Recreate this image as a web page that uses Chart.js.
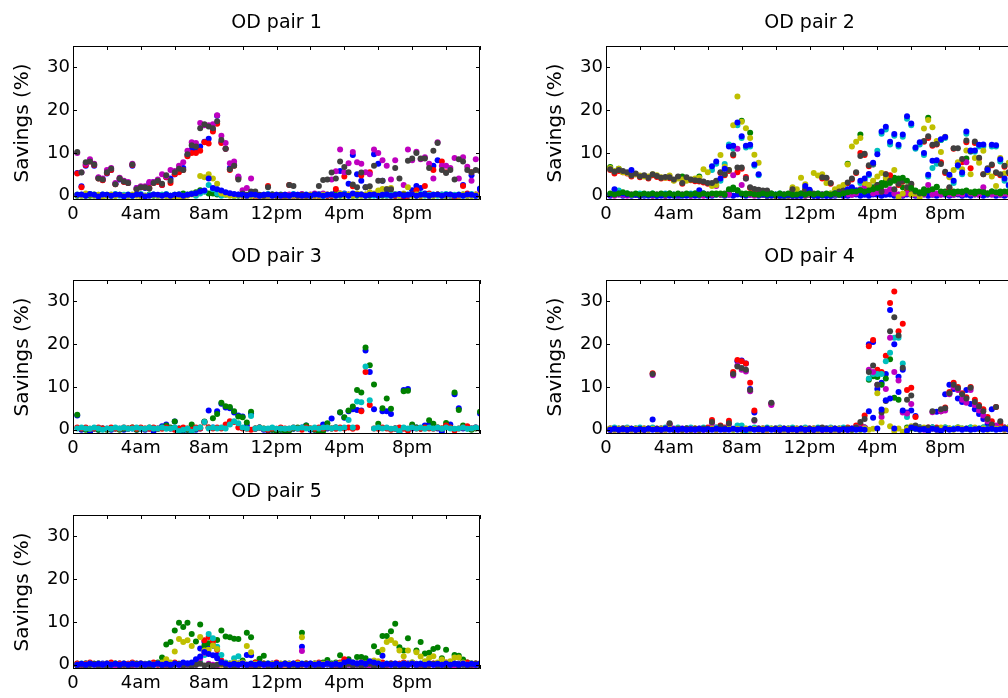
<!DOCTYPE html>
<html>
<head>
<meta charset="utf-8">
<script src="https://cdn.jsdelivr.net/npm/chart.js@4.4.1/dist/chart.umd.min.js"></script>
<style>
  html, body { margin: 0; padding: 0; background: #fff; }
  #page { position: relative; width: 1008px; height: 698px; overflow: hidden; }
  .panel { position: absolute; width: 490px; height: 228px; }
</style>
</head>
<body>
<div id="page">
  <div class="panel" style="left:0;top:0"><canvas id="od1" width="490" height="228"></canvas></div>
  <div class="panel" style="left:533px;top:0"><canvas id="od2" width="490" height="228"></canvas></div>
  <div class="panel" style="left:0;top:234px"><canvas id="od3" width="490" height="228"></canvas></div>
  <div class="panel" style="left:533px;top:234px"><canvas id="od4" width="490" height="228"></canvas></div>
  <div class="panel" style="left:0;top:469px"><canvas id="od5" width="490" height="228"></canvas></div>
</div>
<script>
// time of day (hours) for each 15-minute slot
const hours = [
  0.25, 0.5, 0.75, 1, 1.25, 1.5, 1.75, 2, 2.25, 2.5, 2.75, 3,
  3.25, 3.5, 3.75, 4, 4.25, 4.5, 4.75, 5, 5.25, 5.5, 5.75, 6,
  6.25, 6.5, 6.75, 7, 7.25, 7.5, 7.75, 8, 8.25, 8.5, 8.75, 9,
  9.25, 9.5, 9.75, 10, 10.25, 10.5, 10.75, 11, 11.25, 11.5, 11.75, 12,
  12.25, 12.5, 12.75, 13, 13.25, 13.5, 13.75, 14, 14.25, 14.5, 14.75, 15,
  15.25, 15.5, 15.75, 16, 16.25, 16.5, 16.75, 17, 17.25, 17.5, 17.75, 18,
  18.25, 18.5, 18.75, 19, 19.25, 19.5, 19.75, 20, 20.25, 20.5, 20.75, 21,
  21.25, 21.5, 21.75, 22, 22.25, 22.5, 22.75, 23, 23.25, 23.5, 23.75, 24
];
const xTicks = [0, 2, 4, 6, 8, 10, 12, 14, 16, 18, 20, 22, 24];
const xTickLabels = ['0', '', '4am', '', '8am', '', '12pm', '', '4pm', '', '8pm', '', ''];
const yTicks = [0, 10, 20, 30];

// ---- OD pair 1 ----
const od1Blue = [
  5.3, 2.2, 7, 8.2, 7, 4.2, 3.7, 5.2, 6, 2.8, 3.8, 3.3,
  3, 7, 1.8, 2, 1.8, 3, 3.2, 3.3, 2.5, 4.3, 4, 5,
  6, 6.5, 9.5, 10.8, 11, 11.5, 12.6, 13.3, 15.5, 18.7, 12.5, 11,
  6.5, 7.2, 4.3, 0, 0, 0.2, 0, 0, 0, 0, 0.2, 0,
  0, 0, 0, 0, 0.2, 0, 0, 0, 0, 0, 0.2, 0,
  0, 1, 5.8, 0.5, 2.8, 9.5, 5, 3.5, 2, 0.5, 9.7, 7.5,
  3.5, 1.2, 0.3, 0, 0, 0, 0, 1.3, 2.3, 1.8, 0.5, 0,
  7, 8.3, 0.3, 0, 0, 0, 0, 2.5, 0, 4.8, 0, 1.7
];
const od1Green = [
  0, 0.2, 0, 0, 0.3, 0, 0, 0.2, 0, 0, 0.2, 0,
  0, 0, 0.2, 0, 0, 0.3, 0, 0, 0.2, 0, 0, 0.2,
  0.3, 0.5, 0.3, 0.5, 0.8, 1.3, 1, 0.5, 0.5, 0.3, 0.5, 0.3,
  0.2, 0, 0, 0.3, 0, 0, 0.2, 0, 0, 0, 0.3, 0,
  0, 0.2, 0, 0, 0, 0.3, 0, 0, 0.2, 0, 0, 0,
  0, 0.3, 0, 0, 0.2, 0, 0, 0.3, 0, 0, 0.2, 0,
  0, 0.3, 0, 0, 0.2, 0, 0, 0.3, 0, 0, 0.2, 0,
  0, 0.3, 0, 0, 0.2, 0, 0, 0.3, 0, 0, 0.2, 0
];
const od1Red = [
  5.2, 2, 7.2, 8, 7.2, 4, 3.6, 5.3, 6, 2.7, 4, 3.2,
  3, 7.2, 1.5, 2, 2, 1.8, 3, 3.2, 2.5, 4.3, 3, 5,
  5.5, 6, 9.2, 10, 10, 10.5, 12.5, 12.2, 15, 16.8, 12.3, 11,
  6, 7, 4, 0, 0, 0.3, -0.2, 0, 0, 2.3, 0, 0,
  0, -0.3, 2.5, 0, 0, 0, 0, 0, 0, 0, 0.2, 0,
  0, 1.6, 0.5, 4.5, 0.3, 2.2, 0.4, 4.7, 0.2, 5.5, 0.3, 0.2,
  0.3, 0, 0.5, 0, 0, -0.5, 0, 0.3, 1.3, 0, 2.3, 0.5,
  6, 0.3, 8, 5.5, 0, -0.7, 0, 2.3, 0.5, 5.5, 0.3, 0.2
];
const od1Cyan = [
  0.3, 0, 0.2, 0.4, 0, 0.2, 0.3, 0, 0.2, 0.4, 0, 0.2,
  0.3, 0, 0.2, 0.4, 0, 0.2, 0.3, 0, 0.2, 0.4, 0, 0.2,
  0.3, 0, 0.2, 0.4, 0, 0.5, 1, 2.5, 1.5, 0.5, 0, 0.2,
  0.3, 0, 0.2, 0.4, 0, 0.2, 0.3, 0, 0.2, 0.4, 0, 0.2,
  0.3, 0, 0.2, 0.4, 0, 0.2, 0.3, 0, 0.2, 0.4, 0, 0.2,
  0.3, 0, 0.2, 0.4, 0, 0.2, 0.3, 0, 0.2, 0.4, 0, 0.2,
  0.3, 0, 0.2, 0.4, 0, 0.2, 0.3, 0, 0.2, 0.4, 0, 0.2,
  0.3, 0, 0.2, 0.4, 0, 0.2, 0.3, 0, 0.2, 0.4, 0, 0.2
];
const od1Magenta = [
  10, 5.5, 7.5, 8.5, 7.5, 4.3, 4, 6, 6.5, 3, 4.2, 3.5,
  3.2, 7.5, 1.8, 2.2, 2.2, 3.2, 3.2, 3.8, 5, 4.5, 6, 5.8,
  7, 7.8, 10.5, 12.5, 12.3, 17, 16.5, 16.5, 16.7, 18.8, 14, 12.3,
  7.6, 8, 4.5, 1.3, 1.8, 4, 0, 0, 0.2, 0, 0, 0.2,
  0, 0.2, 0.3, 0, 0, 0.4, 0, 0.3, 0.5, 0.3, 0.5, 0.3,
  3.8, 5.7, 10.8, 5.5, 7.6, 10.2, 7.8, 7.5, 5.5, 5, 10.8, 10,
  8.3, 7, 3.8, 8.3, 0.2, 2.5, 10.8, 8.3, 10.3, 8.5, 9, 7.5,
  4, 12.5, 7, 7, 6.5, 8.8, 4, 9, 6.8, 3.5, 8.5, 0.5
];
const od1Olive = [
  0.2, 0, 0.5, 0.3, 0, 0.2, -0.2, 0, 0.3, 0, 0.2, 0,
  0, 0.3, 0, -0.2, 0, 0, 0.2, 0, 0, 0, -0.3, -0.5,
  -0.6, -0.5, 0, 0.3, 0.5, 4.6, 4.3, 5, 4, 2.8, 0.5, 0.3,
  0, 0, 0.2, 0, 0, 0, 0, 0, 0, 0, 0, 0,
  0, 0, 0, 0, 0, 0, 0, 0.2, 0, 0, 0.2, 0.3,
  0.3, 0, 0.5, 0, 0.2, 0, 0.5, 0, 0.3, 0.8, 0.5, 1.2,
  1.6, 1.6, 1.8, 0.3, 0, 0.5, 2, 0, 0.3, 0, 0.2, 0,
  0, 0.3, 0, 0, 0.2, 0, 0, 0.3, 0, 0, 0.2, 0
];
const od1Gray = [
  10.2, 5.4, 7.8, 8, 7.3, 4, 3.8, 5.5, 6.3, 2.7, 4, 3.3,
  3, 7.3, 1.5, 2, 2, 1.7, 3, 3.5, 2.8, 4.8, 3.5, 5.5,
  6.3, 6, 9.7, 11.8, 11.5, 15.8, 16.7, 16.2, 15.8, 17.4, 13, 11,
  6.2, 7, 3.8, 0.5, 0.2, 1, 1, 0.2, 0, 2, 0.3, 0,
  0.2, 0, 2.5, 2.3, 0, 0.2, 0, 0, 0.3, 2.3, 3.7, 3.8,
  5.4, 4, 8, 6.7, 5.5, 2.6, 2, 5.4, 2, 2.2, 7, 3.5,
  3.5, 1.5, 1.5, 6.5, 4, 0.3, 8.2, 8.7, 10, 8.7, 8.7, 6.5,
  10.5, 12.3, 6, 5.3, 6, 3.8, 8.5, 8, 6, 5.5, 6, 5.8
];
const od1Blue2 = [
  0.2, 0.3, 0, 0.4, 0.2, -0.2, 0.3, 0.2, 0, 0.3, 0.2, -0.2,
  0.2, 0, 0.3, 0.2, -0.2, 0, 0.3, 0.2, 0, 0.3, 0, 0.2,
  0.3, 0, 0.2, 0.4, 0.6, 1, 1.2, 4, 1.8, 1.5, 1.2, 0.8,
  0.6, 0.4, 0.3, 0.2, 0, 0.3, 0.2, 0, 0.2, 0.3, 0, 0.2,
  0, 0.2, 0, 0.3, 0.2, 0, 0.2, 0, 0.3, 0.2, 0, 0.2,
  0.3, 0, 0.2, 0.3, 0, 0.5, 0.2, 0.3, 0, 0.2, 0.3, 0,
  0.2, 0.3, 0, 0.2, 0.4, 0, 0.2, 0.3, 0, 0.2, 0.3, 0,
  0.2, 0.3, 0, 0.2, 0.3, 0, 0.2, 0, 0.3, 0.2, 0, 1.5
];

// ---- OD pair 2 ----
const od2Blue = [
  0, 0.2, 0.3, 0, 0.2, 0, 0.3, 0.2, 0, 0.2, 0.3, 0,
  0.2, 0, 0.3, 0.2, 0, 0.2, 0.3, 0, 0.2, 0, 0.3, 0.2,
  0, 0.2, 0.3, 0, 0.2, 0, 0.3, 0.2, 0, 0.2, 0.3, 0,
  0.2, 0, 0.3, 0.2, 0, 0.2, 0.3, 0, 0.2, 0, 0.3, 0.2,
  0, 0.2, 0.3, 0, 0.2, 0, 0.3, 0.2, 0, 0.2, 0.3, 0,
  0.2, 0, 0.3, 0.2, 0, 0.2, 0.3, 0, 0.2, 0, 0.3, 0.2,
  0, 0.2, 0.3, 0, 0.2, 0, 0.3, 0.2, 0, 0.2, 0.3, 0,
  0.2, 0, 0.3, 0.2, 0, 0.2, 0.3, 0, 0.2, 0, 0.3, 0.2
];
const od2Green = [
  6.7, 0.5, 6.3, 0.3, 0.5, 0.2, 0.3, 0, 0.2, 0.3, 0, 0.2,
  0.3, 0, 0.5, 0.2, 0, 4.5, 0.3, 0.2, 0.5, 4.5, 0.3, 0.2,
  0.3, 0.5, 0.2, 0.5, 1, 1.5, 1.2, 17.5, 0.5, 14.7, 0.3, 0.5,
  0.2, 0, 0.3, 0.2, 0, 0.3, 0.2, 0, 0.3, 0.2, 0, 0.3,
  0.2, 0, 0.3, 0.2, 0, 0.3, 0.2, 0.5, 7.5, 0.5, 1, 14.3,
  1, 1.5, 2, 2.5, 3, 3.5, 4, 4.2, 3.8, 2, 1, 0.5,
  1, 0.5, 1.5, 18.2, 1, 2.1, 13, 1, 0.5, 1, 0.5, 1,
  8.7, 0.5, 1, 0.5, 1, 0.5, 1, 0.5, 1, 0.5, 1, 0.5
];
const od2Red = [
  6, 5.2, 5.8, 5.5, 5.2, 4.5, 5, 4.3, 4.6, 4, 4.8, 4.4,
  4, 4.2, 4.1, 3.6, 4.3, 2.8, 4.1, 3.6, 3.4, 3.3, 3.1, 2.8,
  2.8, 3.3, 5.3, 4.8, 5.8, 9.4, 5.5, 6.3, 4.4, 1.8, 1.4, 1.2,
  1, 1, 0.3, 0, 0, 0, 0, 1.3, 0, 0.3, 1.3, 1.1,
  0.3, 0, 4, 4, 2.8, 0.3, 0.8, 1, 2.9, 3.8, 5.3, 10,
  9.5, 6.9, 7.3, 2.3, 1, 5, 4.8, 1.3, 2.5, 3.3, 1.8, 2.6,
  0.8, 0.3, 12.6, 13.5, 11.7, 12, 7.8, 5.3, 1.8, 11, 7.6, 7.8,
  12.5, 6.4, 12.3, 8.7, 5, 6.2, 7.1, 5.3, 4.8, 6.8, 5.2, 4.8
];
const od2Cyan = [
  0.3, 0.5, 1.2, 0.3, 0.5, 0.2, 0.3, 0.5, 0.2, 0.3, 0.5, 0.2,
  0.3, 0.5, 0.2, 0.3, -0.3, 0.2, 0.3, 0.5, 0.2, 0.3, 0.5, 0.2,
  6, 7.5, 3.5, 7.4, 12, 11, 16.5, 13.5, 11.3, 11.5, 7, 4.8,
  0.3, 0.5, 0.2, 0.3, 0.5, -0.3, 0.3, 0.5, 0.2, 0.3, 2, 1.2,
  0.3, 0.5, 0.2, 0.3, 0.5, 0.2, 0.3, 0.5, 1.2, 1.8, 1, 3,
  3.5, 4.8, 7.3, 10.5, 14.5, 15.5, 12, 14, 11.5, 13.8, 18, 16.5,
  11, 12, 9.5, 4.5, 6.5, 7.5, 13, 13.5, 4.5, 3, 6.8, 5,
  14.5, 10.3, 10.3, 11.5, 11.5, 5.8, 11.5, 11.5, 8, 3.5, 2.3, 0.8
];
const od2Magenta = [
  0.2, 0, 0.3, 0.2, 0, 0.3, 0.2, 0, 0.3, 0.2, 0, 0.3,
  0.2, 0, 0.3, 0.2, 0, 0.3, 0.2, 0, 0.3, 0.2, 0, 0.3,
  0.2, 2.3, 0.3, 0.2, 0.3, 4.8, 11, 2.5, 4, 0.2, 0, 0.3,
  0.2, 0, 0.3, 0.2, 0, 0.3, 0.2, 0, 0.3, 0.2, 0, 0.3,
  0.2, 0, 0.3, 0.2, 0, 0.3, 0.2, 0, 0.3, 0.2, 0.5, 1.5,
  2.1, 2.5, 0.5, 0.8, 1.2, 1, 1.5, 0.5, 0.3, 0.2, 0.5, 0.3,
  0.2, 0.5, 0.3, 2.5, 0.3, 0.5, 0.2, 0.5, 0.3, 0.2, 0.5, 0.3,
  7.8, 0.5, 0.3, 0.2, 2, 0.5, 0.3, 0.5, 0.2, 0.5, 0.3, 0.2
];
const od2Olive = [
  6.5, 5.8, 6.3, 5.5, 5.3, 4.8, 5, 4.7, 4.5, 4.5, 5, 4.8,
  4.3, 4.2, 4.7, 3.5, 4, 3.8, 3.5, 3.8, 4, 4.2, 6.2, 5.5,
  2.3, 2.5, 9.5, 6.8, 6, 16.5, 23.2, 17.3, 15.8, 13.5, 9.6, 7.7,
  0.5, 0, 0, 0, 0, 0, 0, 2, 1.5, 4.2, 2.7, 0.5,
  5.3, 4.7, 5, 3, 0.5, 1.5, 2, 2.5, 7.3, 11.5, 12.6, 13.5,
  3, 2.5, 3.5, 4.5, 5.3, 4.2, 3.5, 6, -0.3, 0.5, 2, 0.3,
  0.5, -0.3, 15.7, 17.7, 16, 12.8, 10.2, 13.8, 4.3, 6, 7.8, 6.2,
  10.6, 5, 8.8, 7.7, 10.5, 5.5, 4.5, 2.3, 8.8, 5.2, 7.7, 8.5
];
const od2Gray = [
  6.2, 5.6, 6, 5.8, 5.5, 4.7, 5.2, 4.5, 4.8, 4.2, 5, 4.6,
  4.2, 4.4, 4.3, 3.8, 4.5, 3, 4.3, 3.8, 3.6, 3.5, 3.3, 3,
  3, 3.5, 5.5, 5, 6, 9.7, 6.6, 6.6, 4, 2, 1.6, 1.4,
  1.2, 1.2, 0.5, 0, 0, 0, 0, 1.5, 0, 0.5, 1.5, 1.3,
  0.5, 0, 4.3, 4.2, 3, 0.5, 1, 1.2, 3.1, 4, 5.5, 9.3,
  9.8, 7.1, 7.5, 2.5, 1, 5, 3.5, 1.5, 2.8, 3.5, 2, 2.8,
  1, 0.5, 12.8, 13.9, 11.9, 12.1, 7.4, 5.6, 2, 11.1, 11.1, 8.6,
  12.9, 10.4, 12.7, 8.9, 5, 6.4, 7.3, 5.5, 5, 7, 5.5, 5
];
const od2Blue2 = [
  0.3, 1.5, 0.5, 0.5, 0.3, 6, 0.2, 0, 0.3, 0, 0.2, 0,
  0, 0.3, 0, 0, 0.2, 0, 0, 0.3, 0, 1.3, 0.5, 0,
  6.9, 8, 4, 6.3, 11.5, 11.7, 17.1, 13.9, 11.7, 11.9, 7.3, 5,
  0.3, 0, 0, 0.2, 0, 0, 0.2, 0, 0, 0, 2.3, 1.4,
  0, 0, 0, 0, 0, 0.5, 0.3, 0, 1.5, 2, 1.3, 3.5,
  4, 5.1, 7.7, 9.7, 15, 16.1, 12.6, 14.4, 11.9, 14.3, 18.6, 16.9,
  11.3, 12.5, 10, 4.9, 8.2, 8.3, 13.2, 13.7, 4.9, 3.5, 7.1, 5.4,
  15, 10.6, 10.6, 11.9, 12, 6, 11.9, 11.8, 8.5, 4, 2.5, 1
];
const od2Green2 = [
  0.5, 0.3, 0.5, 0.8, 0.5, 0.3, 0.5, 0.2, 0.5, 0.3, 0.5, 0.3,
  0.5, 0.3, 0.5, 0.2, 0.5, 0.3, 0.5, 0.3, 0.5, 0.2, 0.5, 0.3,
  0.5, 0.3, 0.5, 0.2, 1.5, 1.9, 1.3, 0.5, 0.3, 0.5, 0.3, 0.2,
  0.5, 0.3, 0.5, 0.2, 0.5, 0.3, 0.5, 0.2, 0.3, 0.5, 0.2, 0.5,
  0.3, 0.5, 0.2, 0.5, 0.3, 0.5, 0.2, 0.5, 0.8, 1, 1, 1.3,
  1, 1.2, 1.5, 1.8, 2.2, 2.5, 3, 3.5, 4, 4.2, 3.5, 1.8,
  1.2, 0.8, 0.5, 1.2, 1.5, 2, 1, 0.5, 0.8, 0.5, 1, 0.8,
  1.2, 0.8, 0.5, 1, 0.8, 0.5, 1, 0.8, 0.5, 1, 0.8, 0.5
];

// ---- OD pair 3 ----
const od3Blue = [
  3.3, 0, 0.3, -0.6, 0.2, 0, 0.3, 0.2, 0, 0.3, 0.2, 0,
  0.2, 0.3, 0, 0.2, 0, 0.3, -0.3, 0.2, 0.8, 1.2, 0.3, 1.9,
  0.3, -0.2, 0, 0.5, 0, 0.3, 1.8, 4.5, 0.5, 4.3, 6.1, 5.2,
  5, 4, 3.3, 3.1, 1, 3.8, 0.2, 0.5, 0, -0.2, 0, 0,
  0, -0.2, 0, 0.2, 0.3, 0.5, 1, 0, 0, -0.3, 1.2, 0.3,
  2.6, 0.5, 4, 2.8, 4.3, 4.8, 4.6, 4.5, 18.5, 13.5, 4.8, 0.5,
  4.3, 4.3, 3.7, 0.3, -0.5, 9.3, 9.5, 0.3, 0.5, 0.3, 1, 1.2,
  0.5, 0.3, -0.5, 0.8, 1.2, 8.3, 5, 0.3, 0.5, 0.3, 0.5, 3.8
];
const od3Green = [
  3.5, 0.3, 0, 0.2, 0.3, 0, 0.3, 0, 0.2, 0.3, 0, 0.2,
  0.3, 0.5, 0, 0.3, 0.2, 0.5, 0.3, 0.2, 0.5, 1, 0.5, 1.9,
  0.3, 0, 0, 1.2, 0.2, 0.5, 1.9, 0.5, 2.7, 3.7, 6.3, 5.5,
  5.3, 4.3, 3.1, 2.9, 1.7, 4.2, 0.3, 0.5, 0.3, 0, 0, -0.3,
  0, -0.3, -0.2, 0.3, 0.5, 0.3, 1, 0.3, 0, -0.5, -0.3, 1.5,
  0.3, 0.5, 4.1, 2.9, 4.5, 5.4, 9.3, 8.7, 19.2, 15.1, 10.6, 1.4,
  5, 7.3, 4.9, 0.3, 0, 9, 9.1, 1.2, 0.5, 0.3, 0.5, 2.2,
  1.4, 0.5, 0.3, 1.6, 0.5, 8.7, 4.6, 1, 0.3, 0, 0.3, 4.2
];
const od3Red = [
  0.5, 0.3, 0.5, 0.2, 0.3, 0.5, 0.3, 0.2, 0.5, 0.3, 0.2, 0.5,
  0.3, 0.5, 0.2, 0.5, 0.3, 0.2, 0.5, 0.3, 0.2, 0.5, 0.3, 0,
  0.2, 0.5, 0.3, 0, 0.5, 0.3, 1.7, 0.5, 0.3, 0.5, 0.3, 1.2,
  2, 1.8, 0.5, 0.3, 0.2, 0, 0.3, 0.5, 0.2, 0, 0.3, 0.2,
  0.5, 0.3, 0.2, 0.5, 0.3, 0, 0.5, 0.3, 0.2, 0.5, 0.3, 0.5,
  0.3, 0.2, 0.5, 0.3, 0.5, 0.2, 0.5, 4.3, 13.5, 5.8, 0.3, 0.2,
  0.5, 0.3, 0, 0.3, 0.5, 0.2, -0.2, 0.5, 0.3, 0.2, 0.5, 0.3,
  0.2, 0.5, 0.3, 1, 0.5, -0.2, 0.3, 0.5, 0.8, 0.3, 0.5, 0.3
];
const od3Cyan = [
  0.3, 0.5, 0.3, 0.2, 0.5, 0.3, 0, 0.3, 0.2, 0.5, 0.3, 0.5,
  0.2, 0.3, 0.5, 0.3, 0.2, 0.5, 0.3, 0.3, 0.5, 0.2, 0.3, 0.5,
  -0.3, 0, 0.3, -0.5, 0.3, 0.5, 1.8, 0.3, 0.5, 0.3, 0.5, 0.3,
  1.2, 2, 1.5, 0.5, 0.3, 3.2, 0.3, 0.5, 0.2, 0.3, 0.5, 0.2,
  0.3, 0.2, 0.3, 0.5, 0.3, 0.5, 0.3, 0.2, 0.5, 0.3, 0.5, 0.5,
  0.3, 0.5, 0.3, 0.5, 2.3, 0.5, 6.6, 6.4, 14.8, 6.9, 0.3, 0.5,
  0.3, 0.5, 0.2, 0.3, -0.3, 0.5, 0.3, 0.5, 0.3, 0.5, 0.2, 0.5,
  0.3, 0.5, 0.2, 0.5, 0.3, 0.2, 0.3, 0.5, 0.2, 0.3, 0.5, 0.3
];

// ---- OD pair 4 ----
const od4Blue = [
  0, 0.2, 0, 0.3, 0, 0.2, 0, 0.3, 0, 0.2, 2.4, 0,
  0.2, 0, 0.3, 0, 0.2, 0, 0.3, 0, 0.2, 0, 0.3, 0,
  0.3, 0, 0.2, 0, 0.3, 13, 16, 16.2, 15.5, 9.5, 4, 0.3,
  0, 0.2, 6.2, 0.3, 0, 0.2, 0, 0.3, 0, 0.2, 0, 0.3,
  0, 0.2, 0, 0.3, 0, 0.2, 0, 0.3, 0, 0.2, 0.3, 1.2,
  0.5, 20, 20.5, 9.5, 11, 13, 28, 20, 12.4, 14, 4, 4.5,
  3.2, 0.5, 0.3, 0.2, 0.5, 4.2, 4.3, 8.3, 10.5, 9.5, 7.3, 6.5,
  9.3, 6, 4.8, 3.7, 2.5, 1.2, 4.8, 0.5, 0.3, 0.5, 0.2, 0.3
];
const od4Green = [
  0.2, 0, 0.3, 0, 0.2, 0, 0.3, 0, 0.2, 0, 0.3, 0,
  0.2, 0, 0.3, 0, 0.2, 0, 0.3, 0, 0.2, 0, 0.3, 0,
  0.2, 0, 0.3, 0, 0.2, 0, 0.3, 0, 0.2, 0, 0.3, 0,
  0.2, 0, 0.3, 0, 0.2, 0, 0.3, 0, 0.2, 0, 0.3, 0,
  0.2, 0, 0.3, 0, 0.2, 0, 0.3, 0, 0.2, 0, 0.3, 0,
  0.5, 11.7, 12.5, 12.3, 10.5, 12, 16.5, 7.5, 7, 4.2, 0.5, 0.3,
  0.2, 0.5, 0.3, 0.2, 0.5, 0.3, 0.2, 0.5, 0.3, 0.2, 0.5, 0.3,
  0.2, 0.5, 0.3, 0.2, 0.5, 0.3, 0.2, 0.5, 0.3, 0.2, 0.5, 0.3
];
const od4Red = [
  0, 0.2, 0, 0.3, 0, 0.2, 0, 0.3, 0, 0.2, 13.2, 0.3,
  0, 0.2, 1.2, 0, 0.3, 0, 0.2, 0, 0.3, 0, 0.2, 0.5,
  2.3, 0.5, 1, 0.5, 2.1, 13.5, 16.3, 16, 15.5, 11, 4.5, 0.3,
  0.2, 0, 6, 0.3, 0, 0.2, 0, 0.3, 0, 0.2, 0, 0.3,
  0, 0.2, 0, 0.3, 0, 0.2, 0, 0.3, 0.5, 0.2, 1, 1.2,
  3.3, 19.5, 21, 14, 13.5, 17.3, 29.6, 32.3, 23, 24.8, 9.3, 9.8,
  3, 0.5, 0.3, 0.5, 0.3, 0.5, 4.3, 5.2, 8.8, 11, 10, 8.5,
  7.6, 10, 7, 5.8, 4.8, 3, 2, 5.3, 1.5, 0.5, 0.3, 0.5
];
const od4Cyan = [
  0.3, 0.5, 0.2, 0.3, 0.5, 0.2, 0.3, 0.5, 0.2, 0.3, 0.5, 0.2,
  0.3, 0.5, 0.2, 0.3, 0.5, 0.2, 0.3, 0.5, 0.2, 0.3, 0.5, 0.2,
  0.3, 0.5, 0.2, 0.3, 0.5, 0.2, 1, 1, -0.7, 0.3, 0.5, 0.2,
  0.3, 0.5, 0.2, 0.3, 0.5, 0.2, 0.3, 0.5, 0.2, 0.3, 0.5, 0.2,
  0.3, 0.5, 0.2, 0.3, 0.5, 0.2, 0.3, 0.5, 0.2, 0.3, 0.5, 0.2,
  0.3, 12, 13, 13, 13, 16, 18, 21.5, 21.5, 15.5, 3, 0.5,
  0.3, 0.5, 0.2, 0.3, 0.5, 0.2, 0.3, 0.5, 0.2, 0.3, 0.5, 0.2,
  0.3, 0.5, 0.2, 0.3, 0.5, 0.2, 0.3, 0.5, 0.2, 0.3, 0.5, 0.2
];
const od4Magenta = [
  0.3, 0, 0.2, 0, 0.3, 0, 0.2, 0, 0.3, 0, 12.8, 0,
  0.3, 0, 1.3, 0.2, 0, 0.3, 0, 0.2, 0, 0.3, 0, 0,
  1.5, 0, 0.5, 0, 1.3, 12.7, 15, 14, 13.6, 9, 2.1, 0,
  0.3, 0, 5.8, 0, 0.3, 0, 0.2, 0, 0.3, 0, 0.2, 0,
  0.3, 0, 0.2, 0, 0.3, 0, 0.2, 0, 0, 0.3, 0.5, 0.3,
  0.5, 14, 13.5, 10.5, 3, 9.5, 21.5, 13.5, 11.5, 4, 3.8, 6,
  0.5, 0.3, 0, 0.2, 4.1, 0, 4.3, 4.5, 8.3, 10, 9.3, 7,
  6.3, 9.3, 5.8, 4.5, 3.3, 2, 0.8, 1, 0.3, 0, 0.2, 0
];
const od4Olive = [
  0.3, 0, 0.2, 0, 0.3, 0, 0.2, 0, 0.3, 0, 0.2, 0,
  0.3, 0, 0.2, 0, 0.3, 0, 0.2, 0, 0.3, 0, 0.2, 0,
  0.3, 0, 0.2, 0, 0.3, 0, 0.2, 0, 0.3, 0, 0.2, 0,
  0.3, 0, 0.2, 0, 0.3, 0, 0.2, 0, 0.3, 0, 0.2, 0,
  0.3, 0, 0.2, 0, 0.3, 0, 0.2, 0, 0.3, 0, 0.2, 0,
  0.3, 0, 0.2, 8.5, 1.7, 4.5, 0.8, -0.3, 0.3, -0.5, 0.3, 0.8,
  0.3, 0, 0.5, 0.2, 0.3, 0, 0.5, 0.2, 0.3, 0, 0.5, 0.2,
  0.3, 0, 0.5, 0.2, 0.3, 0, 0.5, 0.2, 0.3, 0, 0.5, 0.2
];
const od4Gray = [
  0, 0.2, 0, 0.3, 0, 0.2, 0, 0.2, 0, 0.3, 13, 0.2,
  0, 0.3, 1.5, 0, 0.2, 0, 0.3, 0, 0.2, 0, 0.3, 0.2,
  1.8, 0.2, 0.8, 0.3, 1.5, 13, 14.8, 14.4, 14, 9.3, 2.3, 0.2,
  0, 0.3, 6.3, 0.2, 0, 0.3, 0, 0.2, 0, 0.3, 0, 0.2,
  0, 0.3, 0.5, 0.2, 0, 0.3, 0, 0.2, 0.3, 0, 0.5, 1.8,
  2.5, 13.5, 15, 10.5, 4, 6.7, 23, 26.3, 22, 14.5, 7, 8,
  1, 0.3, 0.2, 0.5, 4.3, 0.3, 4.8, 5, 8.5, 10.5, 9.7, 8.3,
  7.3, 9.8, 6.5, 5.5, 4.3, 2.5, 1.2, 5.3, 2, 0.3, 0.2, 0.3
];
const od4Blue2 = [
  0, 0.2, 0, 0.1, 0, 0.2, 0, 0.1, 0, 0.2, 0, 0.1,
  0, 0.2, 0, 0.1, 0, 0.2, 0, 0.1, 0, 0.2, 0, 0.1,
  0, 0.2, 0, 0.1, 0, 0.2, 0, 0.1, 0, 0.2, 0, 0.1,
  0, 0.2, 0, 0.1, 0, 0.2, 0, 0.1, 0, 0.2, 0, 0.1,
  0, 0.2, 0, 0.1, 0, 0.2, 0, 0.1, 0, 0.2, 0, 0.1,
  0, 4.3, 2.8, 0.3, 4.7, 6.9, 7.3, 0.3, 8.8, 4.5, -0.3, 0.5,
  0.2, 0, 0.1, -0.3, 0.2, 0, -0.3, 0.2, 0, 0.1, 0.2, 0,
  0.2, 0, 0.1, 0.2, 0, 0.1, 0.2, 0, 0.1, 0.2, 0, 0.1
];

// ---- OD pair 5 ----
const od5Blue = [
  0.2, 0, 0.3, 0, 0.2, 0, 0.3, 0, 0.2, 0, 0.3, 0,
  0.2, 0, 0.3, 0, 0.2, 0, 0.3, 0, 0.2, 0, 0.3, 0,
  0.2, 0, 0.3, 0, 0.2, 3.8, 5.3, 4.7, 4.5, 2.3, 0.3, 0,
  0.2, 0, 0.3, 0, 2.3, 2.2, 0.3, 0, 0.2, 0, 0.3, 0,
  0.2, 0, 0.3, 0, 0.2, 4.2, 0.3, 0, 0.2, 0, 0.3, 0,
  0.2, 0, 0.3, 0, 0.2, 0, 0.3, 0, 0.2, 0, 0.3, 0,
  2.1, 0, 0.3, 0, 0.2, 0, 0.3, 0, 0.2, 0, 0.3, 0,
  0.2, 0, 0.3, 0, 0.2, 0, 0.3, 0, 0.2, 0, 0.3, 0
];
const od5Green = [
  0.2, 0, 0.3, 0, 0.2, 0.3, 0, 0.2, 0, 0.3, 0, 0.2,
  0, 0.3, 0, 0.2, 0, 0.3, 0, 0.5, 1.7, 4.7, 5.3, 8,
  9.8, 8.8, 9.8, 7.2, 5.4, 9.4, 4.5, 5, 4.5, 5.8, 8, 6.6,
  6.4, 6.1, 6, 1, 7.5, 6.4, 0.5, 1.4, 2.1, 0.3, 0, 0.2,
  0, 0.3, 0, 0.2, 0.3, 7.5, 0, 0.2, 0.3, 0, 0.5, 1.1,
  0.3, 0.5, 2.2, 1, 1.3, 0.5, 1.8, 1.8, 1.5, 0.5, 4.3, 3,
  6.7, 6.7, 7.8, 9.6, 4.1, 3.3, 6.2, 0.5, 3.3, 5.3, 2.6, 2.8,
  3.7, 4, 1.5, 3.5, 0.5, 2.3, 2.1, 1.2, 0.5, 0.3, 0, 0.2
];
const od5Red = [
  0.3, 0, 0.2, 0.5, 0, 0.3, 0, 0.2, 0.5, 0, 0.3, 0,
  0.2, 0.5, 0, 0.3, 0, 0.2, 0.5, 0, 0.3, 0, 0.2, 0.5,
  0, 0.3, 0, 0.2, 0.5, 0.5, 5.7, 6.5, 5.5, 3.5, 1, 0.3,
  0.2, 0.5, 0, 0.3, 0, 0.2, 0.5, 0, 0.3, 0, 0.2, 0.5,
  0, 0.3, 0, 0.2, 0.5, 0, 0.3, 0, 0.2, 0.5, 0, 0.3,
  0, 0.2, 0.5, 1.3, 0.3, 0, 0.2, 0.5, 0, 0.3, 0, 0.2,
  0.5, 0, 0.3, 0, 0.2, 0.5, 0, 0.3, 0, 0.2, 0.5, 0,
  0.3, 0, 0.2, 0.5, 0, 0.3, 0, 0.2, 0.5, 0, 0.3, 0
];
const od5Cyan = [
  0, 0.3, 0, 0.2, 0, 0.3, 0, 0.2, 0, 0.3, 0, 0.2,
  0, 0.3, 0, 0.2, 0, 0.3, 0, 0.2, 0, 0.3, 0, 0.2,
  0, 0.3, 0, 0.2, 0, 0.5, 2.3, 7.2, 6.2, 4.2, 2.3, 0.5,
  0.3, 1.5, 2, 0.2, 0, 0.3, 0, 0.2, 0, 0.3, 0, 0.2,
  0, 0.3, 0, 0.2, 0, 0.3, 0, 0.2, 0, 0.3, 0, 0.2,
  0, 0.3, 0, 0.2, 0, 0.3, 0, 0.2, 0, 0.3, 0, 0.2,
  0, 0.3, 0, 0.2, 0, 0.3, 0, 0.2, 0, 0.3, 0, 0.2,
  0, 0.3, 0, 0.2, 0, 0.3, 0, 0.2, 0, 0.3, 0, 0.2
];
const od5Magenta = [
  0, -0.3, 0, 0.2, 0, -0.3, 0, 0.2, 0, -0.3, 0, 0.2,
  0, -0.3, 0, 0.2, 0, -0.3, 0, 0.2, 0, -0.3, 0, 0.2,
  0, -0.3, 0, 0.2, 0, 1.5, 2.8, 0.2, 0, -0.3, 0, 0.2,
  0, -0.3, 0, 0.2, 0, -0.3, 0, 0.2, 0, -0.3, 0, 0.2,
  0, -0.3, 0, 0.2, 0, 3.2, 0, 0.2, 0, -0.3, 0, 0.2,
  0, -0.3, 0, 0.2, 0, -0.3, 0, 0.2, 0, -0.3, 0, 0.2,
  0, -0.3, 0, 0.2, 0, -0.3, 0, 0.2, 0, -0.3, 0, 0.2,
  0, -0.3, 0, 0.2, 0, -0.3, 0, 0.2, 0, -0.3, 0, 0.2
];
const od5Olive = [
  0, 0.2, 0, 0.3, 0, 0.2, 0, 0.3, 0, 0.2, 0, 0.3,
  0, 0.2, 0, 0.3, 0, 0.2, 0, 0.3, 0.5, 1.3, 0.5, 3.1,
  6, 5.3, 5.7, 4.4, 0.5, 6.5, 3.3, 3.5, 4.5, 3.7, 0, 0.3,
  0.2, 0.5, 0.3, 0.5, 4.4, 2.9, 0.2, 0, 0.3, 0, 0.2, 0,
  0.3, 0, 0.2, 0, 0.3, 6.4, 0.2, 0, 0.3, 0, 0.2, 0.3,
  0, 0.2, 0.3, 0, 0.5, 0.3, 0.2, 0.5, 0.3, 0.5, 1, 0.8,
  3.5, 5.3, 5.8, 5, 3.3, 2, 3.3, 0.5, 2.9, 1.9, 0.8, 1.6,
  2, 0.5, 1.2, 0.5, 0.8, 1.7, 1.7, 0.5, -0.3, 0.3, 0.2, 0.3
];
const od5Gray = [
  -0.2, 0, -0.3, 0, 0.2, -0.2, 0, -0.3, 0, 0.2, -0.2, 0,
  -0.3, 0, 0.2, -0.2, 0, -0.3, 0, 0.2, -0.2, 0, -0.3, 0,
  0.2, -0.2, 0, -0.3, 0, 0.2, -0.2, 0, -0.3, 0, 0.2, -0.2,
  0, -0.3, 0, 0.2, -0.2, 0, -0.3, 0, 0.2, -0.2, 0, -0.3,
  0, 0.2, -0.2, 0, -0.3, 0, 0.2, -0.2, 0, -0.3, 0, 0.2,
  -0.2, 0, -0.3, -0.5, 0.2, -0.2, 0, -0.3, 0, 0.2, -0.5, 0,
  -0.3, 0, 0.2, -0.2, 0, -0.3, 0, 0.2, -0.2, 0, -0.3, 0,
  0.2, -0.2, 0, -0.3, 0, 0.2, -0.2, 0, -0.3, 0, 0.2, -0.2
];
const od5Blue2 = [
  0, 0.2, 0, 0.3, 0, 0.2, 0, 0.3, 0, 0.2, 0, 0.3,
  0, 0.2, 0, 0.3, 0, 0.2, 0, 0.3, 0, 0.2, 0, 0.3,
  0, 0.5, 0.3, 0.5, 1.3, 1.9, 3, 2.5, 2.2, 1.5, 0.6, 0.3,
  0, 0.2, 0, 0.3, 0, 0.2, 0, 0.3, 0, 0.2, 0, 0.3,
  0, 0.2, 0, 0.3, 0, 0.2, 0, 0.3, 0, 0.2, 0, 0.3,
  0, 0.2, 0, 0.5, 0.8, 0.5, 0.3, 0.5, 0.2, 0.8, 0.5, 0.3,
  0, 0.2, 0, 0.3, 0, 0.2, 0, 0.3, 0, 0.2, 0, 0.3,
  0, 0.2, 0, 0.3, 0, 0.2, 0, 0.3, 0, 0.2, 0, 0.3
];

const COLORS = {
  blue: '#0000ff', green: '#008000', red: '#ff0000', cyan: '#00bfbf',
  magenta: '#bf00bf', olive: '#bfbf00', gray: '#404040'
};
const FONT = '"DejaVu Sans", "Liberation Sans", Arial, sans-serif';

const panels = [
  { id: 'od1', title: 'OD pair 1', series: [
    [od1Blue, 'blue'], [od1Green, 'green'], [od1Red, 'red'], [od1Cyan, 'cyan'],
    [od1Magenta, 'magenta'], [od1Olive, 'olive'], [od1Gray, 'gray'], [od1Blue2, 'blue']] },
  { id: 'od2', title: 'OD pair 2', series: [
    [od2Blue, 'blue'], [od2Green, 'green'], [od2Red, 'red'], [od2Cyan, 'cyan'],
    [od2Magenta, 'magenta'], [od2Olive, 'olive'], [od2Gray, 'gray'], [od2Blue2, 'blue'], [od2Green2, 'green']] },
  { id: 'od3', title: 'OD pair 3', series: [
    [od3Blue, 'blue'], [od3Green, 'green'], [od3Red, 'red'], [od3Cyan, 'cyan']] },
  { id: 'od4', title: 'OD pair 4', series: [
    [od4Blue, 'blue'], [od4Green, 'green'], [od4Red, 'red'], [od4Cyan, 'cyan'],
    [od4Magenta, 'magenta'], [od4Olive, 'olive'], [od4Gray, 'gray'], [od4Blue2, 'blue']] },
  { id: 'od5', title: 'OD pair 5', series: [
    [od5Blue, 'blue'], [od5Green, 'green'], [od5Red, 'red'], [od5Cyan, 'cyan'],
    [od5Magenta, 'magenta'], [od5Olive, 'olive'], [od5Gray, 'gray'], [od5Blue2, 'blue']] }
];

// matlab style box with inward ticks on all four sides
const boxPlugin = {
  id: 'matlabBox',
  afterDatasetsDraw(chart) {
    const { ctx, chartArea: a, scales: { x, y } } = chart;
    const len = 4;
    ctx.save();
    ctx.strokeStyle = '#000';
    ctx.lineWidth = 1;
    ctx.beginPath();
    ctx.rect(Math.round(a.left) + 0.5, Math.round(a.top) + 0.5,
             Math.round(a.width) - 1, Math.round(a.height) - 1);
    x.ticks.forEach(t => {
      const px = Math.round(x.getPixelForValue(t.value)) + 0.5;
      ctx.moveTo(px, a.bottom); ctx.lineTo(px, a.bottom - len);
      ctx.moveTo(px, a.top); ctx.lineTo(px, a.top + len);
    });
    y.ticks.forEach(t => {
      const py = Math.round(y.getPixelForValue(t.value)) + 0.5;
      ctx.moveTo(a.left, py); ctx.lineTo(a.left + len, py);
      ctx.moveTo(a.right, py); ctx.lineTo(a.right - len, py);
    });
    ctx.stroke();
    ctx.restore();
  }
};

panels.forEach(p => {
  const datasets = p.series.map(([vals, col]) => ({
    data: hours.map((h, i) => ({ x: h, y: vals[i] })),
    backgroundColor: COLORS[col],
    borderWidth: 0,
    pointRadius: 3,
    pointHoverRadius: 3
  })).reverse(); // later series sit on top, as in the original

  new Chart(document.getElementById(p.id), {
    type: 'scatter',
    data: { datasets },
    plugins: [boxPlugin],
    options: {
      responsive: false,
      animation: false,
      layout: { padding: { left: 0, right: 10, top: 0, bottom: 0 } },
      plugins: {
        legend: { display: false },
        tooltip: { enabled: false },
        title: {
          display: true, text: p.title, fullSize: false, color: '#000',
          font: { family: FONT, size: 19, weight: 'normal' },
          padding: { top: 11.5, bottom: 11.7 }
        }
      },
      scales: {
        x: {
          type: 'linear', min: 0, max: 24,
          afterBuildTicks: s => { s.ticks = xTicks.map(v => ({ value: v })); },
          afterFit: s => { s.height = 28; },
          grid: { display: false, drawTicks: false },
          border: { display: false },
          ticks: {
            autoSkip: false, maxRotation: 0, padding: 4, color: '#000',
            font: { family: FONT, size: 18 },
            callback: (v, i) => xTickLabels[i]
          }
        },
        y: {
          min: -1, max: 35,
          afterBuildTicks: s => { s.ticks = yTicks.map(v => ({ value: v })); },
          afterFit: s => { s.width = 73; },
          grid: { display: false, drawTicks: false },
          border: { display: false },
          ticks: { padding: 3, color: '#000', font: { family: FONT, size: 18 } },
          title: {
            display: true, text: 'Savings (%)', color: '#000',
            font: { family: FONT, size: 20 },
            padding: { top: 11, bottom: 0 }
          }
        }
      }
    }
  });
});
</script>
</body>
</html>
